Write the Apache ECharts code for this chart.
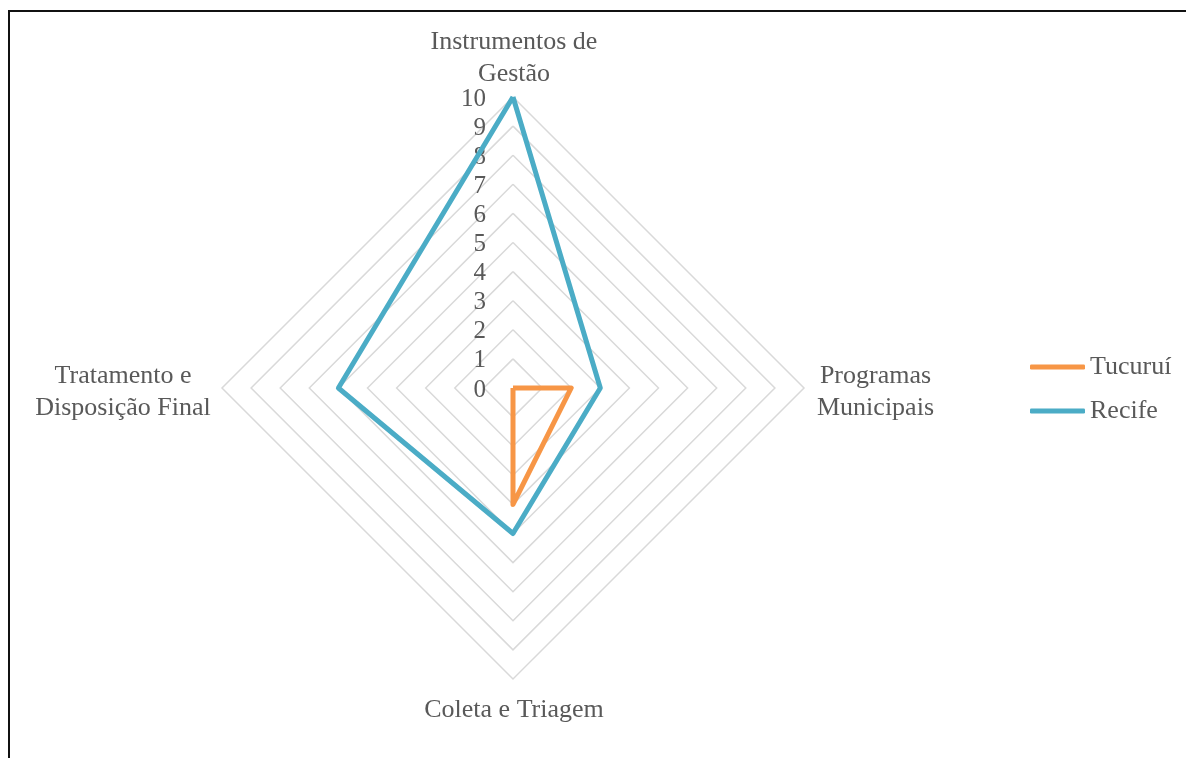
<!DOCTYPE html>
<html>
<head>
<meta charset="utf-8">
<script src="https://cdn.jsdelivr.net/npm/echarts@6/dist/echarts.min.js"></script>
<style>
  html, body { margin: 0; padding: 0; background: #fff; overflow: hidden; }
  #frame { position: absolute; left: 8px; top: 10px; width: 1200px; height: 800px; border: 2px solid #111; }
  #chart { position: absolute; left: 0; top: 0; width: 1186px; height: 758px; }
</style>
</head>
<body>
<div id="frame"></div>
<div id="chart"></div>
<script>
// indicators listed counterclockwise from the top, as ECharts lays them out
const indicators = ["Instrumentos de\nGestão", "Tratamento e\nDisposição Final", "Coleta e Triagem", "Programas\nMunicipais"];
const tucurui = [0, 0, 4, 2];
const recife = [10, 6, 5, 3];
const seriesNames = ["Tucuruí", "Recife"];
const maxValue = 10;

const FONT = "'Liberation Serif', 'Times New Roman', serif";
const TEXT = "#595959";
const NAME_SIZE = 26;

// centre each line of a side label within the widest line
const measure = document.createElement("canvas").getContext("2d");
measure.font = NAME_SIZE + "px " + FONT;
const rich = {};
indicators.forEach((name, i) => {
  const lines = name.split("\n");
  const w = Math.ceil(Math.max(...lines.map((l) => measure.measureText(l).width)));
  rich["n" + i] = { width: w, align: "center", color: TEXT, fontFamily: FONT, fontSize: NAME_SIZE, lineHeight: 32 };
});

const chart = echarts.init(document.getElementById("chart"), null, { renderer: "canvas" });
chart.setOption({
  backgroundColor: "transparent",
  animation: false,
  legend: {
    orient: "vertical",
    left: 1025,
    top: 349,
    itemWidth: 55,
    itemHeight: 5,
    itemGap: 18,
    icon: "roundRect",
    textStyle: { color: TEXT, fontFamily: FONT, fontSize: 26, padding: [0, 0, 0, 0] },
    data: seriesNames,
  },
  radar: {
    center: [513, 388],
    radius: 291,
    shape: "polygon",
    splitNumber: 10,
    indicator: indicators.map((name) => ({ name, min: 0, max: maxValue })),
    axisName: {
      color: TEXT,
      fontFamily: FONT,
      fontSize: NAME_SIZE,
      lineHeight: 32,
      padding: [8, 4, 0, 6],
      formatter: (name) => {
        const i = indicators.indexOf(name);
        return name.split("\n").map((l) => "{n" + i + "|" + l + "}").join("\n");
      },
      rich,
    },
    nameGap: 7,
    axisLine: { show: false },
    splitArea: { show: false },
    splitLine: { lineStyle: { color: "#d9d9d9", width: 1.5 } },
  },
  // value labels along the top spoke
  grid: { left: 504, width: 8, top: 99, height: 291 },
  xAxis: { type: "value", show: false },
  yAxis: {
    type: "value",
    min: 0,
    max: maxValue,
    interval: 1,
    axisLine: { show: false },
    axisTick: { show: false },
    splitLine: { show: false },
    axisLabel: { color: TEXT, fontFamily: FONT, fontSize: 25, margin: 18 },
  },
  series: [
    {
      type: "radar",
      symbol: "none",
      data: [
        { name: seriesNames[0], value: tucurui, lineStyle: { color: "#F79646", width: 5 }, itemStyle: { color: "#F79646" } },
        { name: seriesNames[1], value: recife, lineStyle: { color: "#4BACC6", width: 5 }, itemStyle: { color: "#4BACC6" } },
      ],
    },
  ],
});
</script>
</body>
</html>
